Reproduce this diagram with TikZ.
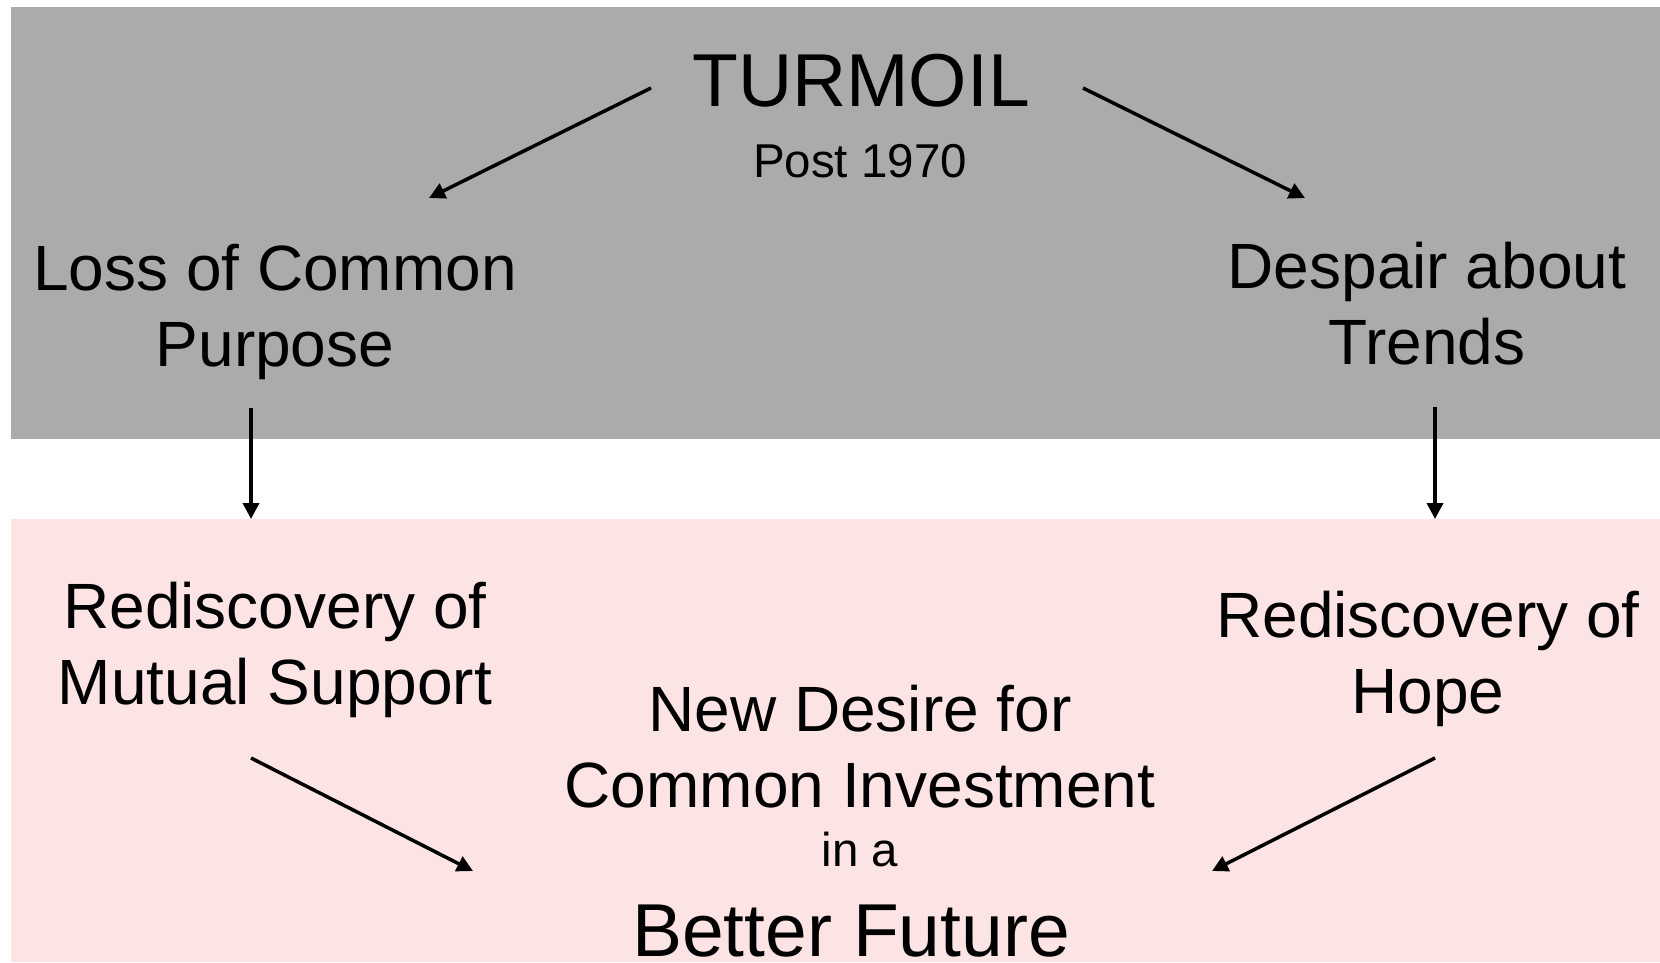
\documentclass[tikz,border=0pt]{standalone}
\usepackage{fontspec}
\setmainfont{Liberation Sans}
\usetikzlibrary{arrows.meta}
\definecolor{topgray}{RGB}{171,171,171}
\definecolor{botpink}{RGB}{252,228,228}
\tikzset{
  lbl/.style={inner sep=0pt, align=center, anchor=base, text=black},
  big/.style={lbl, font=\fontsize{64}{76}\selectfont},
  huge/.style={lbl, font=\fontsize{75}{88}\selectfont},
  small/.style={lbl, font=\fontsize{47.5}{57}\selectfont},
  arr/.style={line width=3.5pt, -{Triangle[width=16pt,length=16pt]}}
}
\begin{document}
\begin{tikzpicture}[x=1pt,y=-1pt]
\useasboundingbox (0,0) rectangle (1660,962);
\fill[topgray] (10.6,7.4) rectangle (1660,439);
\fill[botpink] (10.6,519) rectangle (1660,962);

\node[huge]  (turmoil) at (861,106) {TURMOIL};
\node[small] (post)    at (860,177) {Post 1970};
\node[big]   (loss)    at (275,366) {Loss of Common\\Purpose};
\node[big]   (despair) at (1427,364) {Despair about\\Trends};
\node[big]   (mutual)  at (275,704) {Rediscovery of\\Mutual Support};
\node[big]   (hope)    at (1428,713) {Rediscovery of\\Hope};
\node[big]   (desire)  at (860,807) {New Desire for\\Common Investment};
\node[small] (ina)     at (860,866) {in a};
\node[huge]  (better)  at (851,956) {Better Future};

\coordinate (a1s) at (651,88);   \coordinate (a1e) at (429,198);
\coordinate (a2s) at (1083,88);  \coordinate (a2e) at (1305,198);
\coordinate (a3s) at (251,408);  \coordinate (a3e) at (251,519);
\coordinate (a4s) at (1435,407); \coordinate (a4e) at (1435,519);
\coordinate (a5s) at (251,758);  \coordinate (a5e) at (473,871);
\coordinate (a6s) at (1435,758); \coordinate (a6e) at (1212,871);

\draw[arr] (a1s) -- (a1e);
\draw[arr] (a2s) -- (a2e);
\draw[arr] (a3s) -- (a3e);
\draw[arr] (a4s) -- (a4e);
\draw[arr] (a5s) -- (a5e);
\draw[arr] (a6s) -- (a6e);
\end{tikzpicture}
\end{document}
